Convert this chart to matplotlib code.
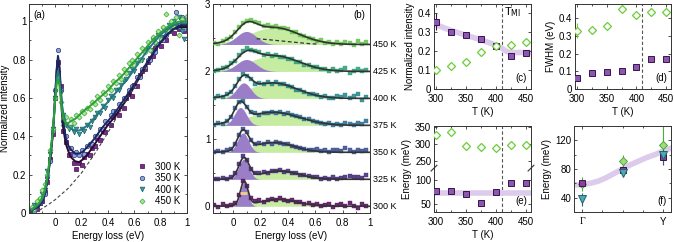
import numpy as np
import matplotlib
matplotlib.use("Agg")
import matplotlib.pyplot as plt
from matplotlib.ticker import MultipleLocator

plt.rcParams['font.family'] = ['Liberation Sans', 'DejaVu Sans']
plt.rcParams['font.size'] = 7

# ---------------- panel (a) data ----------------
x_a = [-0.18, -0.16, -0.14, -0.12, -0.10, -0.08, -0.06, -0.04, -0.02, 0.00,
       0.02, 0.04, 0.06, 0.08, 0.10, 0.12, 0.14, 0.16, 0.18, 0.20,
       0.22, 0.24, 0.26, 0.28, 0.30, 0.32, 0.34, 0.36, 0.38, 0.40,
       0.42, 0.44, 0.46, 0.48, 0.50, 0.52, 0.54, 0.56, 0.58, 0.60,
       0.62, 0.64, 0.66, 0.68, 0.70, 0.72, 0.74, 0.76, 0.78, 0.80,
       0.82, 0.84, 0.86, 0.88, 0.90, 0.92, 0.94, 0.96, 0.98, 1.00]
pts_300 = [0.01, 0.03, 0.02, 0.05, 0.06, 0.11, 0.16, 0.28, 0.41, 0.60,
           0.79, 0.66, 0.43, 0.37, 0.30, 0.31, 0.26, 0.23, 0.26, 0.25,
           0.29, 0.31, 0.30, 0.34, 0.35, 0.39, 0.38, 0.43, 0.42, 0.47,
           0.46, 0.50, 0.52, 0.51, 0.56, 0.55, 0.60, 0.62, 0.61, 0.67,
           0.66, 0.72, 0.74, 0.75, 0.79, 0.81, 0.82, 0.86, 0.88, 0.87,
           0.92, 0.90, 0.95, 0.97, 0.94, 0.98, 0.96, 0.99, 0.95, 0.98]
pts_350 = [0.02, 0.01, 0.04, 0.05, 0.08, 0.10, 0.19, 0.27, 0.43, 0.64,
           0.85, 0.64, 0.48, 0.40, 0.34, 0.34, 0.30, 0.32, 0.30, 0.33,
           0.31, 0.35, 0.36, 0.36, 0.40, 0.40, 0.44, 0.44, 0.48, 0.47,
           0.51, 0.53, 0.53, 0.57, 0.56, 0.60, 0.60, 0.64, 0.66, 0.66,
           0.71, 0.71, 0.75, 0.76, 0.80, 0.80, 0.84, 0.84, 0.88, 0.90,
           0.90, 0.93, 0.95, 0.97, 0.99, 1.05, 0.97, 1.02, 0.96, 1.01]
pts_400 = [0.02, 0.04, 0.04, 0.07, 0.10, 0.12, 0.22, 0.31, 0.44, 0.60,
           0.73, 0.63, 0.51, 0.46, 0.44, 0.45, 0.42, 0.44, 0.41, 0.44,
           0.43, 0.46, 0.45, 0.48, 0.50, 0.52, 0.52, 0.56, 0.55, 0.59,
           0.61, 0.60, 0.64, 0.64, 0.67, 0.69, 0.70, 0.73, 0.75, 0.74,
           0.78, 0.80, 0.80, 0.85, 0.86, 0.85, 0.90, 0.88, 0.93, 0.92,
           0.96, 0.94, 0.98, 0.96, 1.00, 0.97, 1.02, 0.95, 0.91, 0.97]
pts_450 = [0.03, 0.02, 0.06, 0.08, 0.12, 0.15, 0.20, 0.33, 0.44, 0.60,
           0.69, 0.58, 0.46, 0.50, 0.45, 0.49, 0.47, 0.51, 0.50, 0.53,
           0.52, 0.55, 0.54, 0.58, 0.57, 0.61, 0.59, 0.63, 0.62, 0.66,
           0.64, 0.69, 0.68, 0.72, 0.70, 0.75, 0.73, 0.78, 0.80, 0.77,
           0.83, 0.80, 0.86, 0.84, 0.89, 0.85, 0.92, 0.89, 0.95, 0.91,
           0.97, 1.04, 0.95, 1.00, 0.97, 1.02, 0.93, 1.01, 0.99, 1.03]

x_fit_a = [-0.18, -0.15, -0.12, -0.10, -0.08, -0.06, -0.04, -0.02, -0.01, 0.00,
           0.01, 0.02, 0.03, 0.04, 0.05, 0.06, 0.08, 0.10, 0.12, 0.15,
           0.18, 0.21, 0.25, 0.30, 0.35, 0.40, 0.45, 0.50, 0.55, 0.60,
           0.65, 0.70, 0.75, 0.80, 0.85, 0.90, 0.95, 1.00]
fit_300 = [0.015, 0.025, 0.04, 0.06, 0.10, 0.17, 0.27, 0.40, 0.50, 0.62,
           0.74, 0.80, 0.76, 0.64, 0.52, 0.44, 0.36, 0.32, 0.29, 0.27,
           0.265, 0.28, 0.31, 0.36, 0.41, 0.46, 0.50, 0.55, 0.60, 0.66,
           0.72, 0.78, 0.84, 0.89, 0.93, 0.96, 0.97, 0.97]
fit_350 = [0.015, 0.025, 0.04, 0.06, 0.10, 0.17, 0.28, 0.41, 0.51, 0.63,
           0.75, 0.82, 0.78, 0.67, 0.56, 0.48, 0.39, 0.35, 0.33, 0.31,
           0.31, 0.32, 0.35, 0.39, 0.44, 0.48, 0.52, 0.57, 0.62, 0.67,
           0.73, 0.79, 0.84, 0.89, 0.93, 0.96, 0.98, 0.98]
fit_400 = [0.015, 0.03, 0.05, 0.07, 0.11, 0.18, 0.29, 0.42, 0.51, 0.61,
           0.70, 0.74, 0.71, 0.64, 0.57, 0.52, 0.47, 0.45, 0.44, 0.43,
           0.43, 0.44, 0.46, 0.50, 0.54, 0.58, 0.62, 0.66, 0.70, 0.75,
           0.80, 0.85, 0.89, 0.93, 0.96, 0.98, 0.99, 0.99]
fit_450 = [0.02, 0.035, 0.055, 0.08, 0.12, 0.19, 0.30, 0.42, 0.51, 0.60,
           0.67, 0.70, 0.67, 0.60, 0.53, 0.49, 0.47, 0.47, 0.48, 0.49,
           0.51, 0.53, 0.55, 0.58, 0.61, 0.64, 0.68, 0.71, 0.75, 0.79,
           0.83, 0.87, 0.91, 0.94, 0.97, 0.99, 1.00, 1.00]
bg_x = [-0.12, -0.05, 0.0, 0.05, 0.1, 0.15, 0.2, 0.3, 0.4, 0.5, 0.6, 0.7]
bg_y = [0.015, 0.045, 0.07, 0.10, 0.13, 0.17, 0.21, 0.31, 0.42, 0.54, 0.66, 0.78]

# ---------------- fit parameters (panels c, d, e) ----------------
temps = [300, 325, 350, 375, 400, 425, 450]
int_low = [0.355, 0.30, 0.287, 0.265, 0.23, 0.177, 0.193]
int_high = [0.10, 0.124, 0.145, 0.195, 0.23, 0.233, 0.25]
fwhm_low = [0.064, 0.088, 0.094, 0.103, 0.122, 0.169, 0.169]
fwhm_high = [0.33, 0.335, 0.356, 0.454, 0.42, 0.435, 0.435]
en_low = [78, 76, 70, 51, 75, 95, 95]
en_high = [327, 335, 294, 290, 287, 297, 297]
band_c_T = [297, 325, 350, 375, 400, 410, 418, 425, 458]
band_c_y = [0.345, 0.31, 0.285, 0.26, 0.232, 0.215, 0.198, 0.193, 0.193]
band_e_T = [297, 458]
band_e_y = [73, 73]
T_MI = 410

# ---------------- panel (b) data ----------------
x_b = [-0.14, -0.11, -0.08, -0.05, -0.02, 0.01, 0.04, 0.07, 0.10, 0.13,
       0.16, 0.19, 0.22, 0.25, 0.28, 0.31, 0.34, 0.37, 0.40, 0.43,
       0.46, 0.49, 0.52, 0.55, 0.58, 0.61, 0.64, 0.67, 0.70, 0.73,
       0.76, 0.79, 0.82, 0.85, 0.88, 0.91, 0.94, 0.97]
spec_b = [
    [0.02, -0.01, 0.03, 0.00, 0.02, 0.05, 0.17, 0.38, 0.30, 0.12, 0.08, 0.09, 0.07, 0.10, 0.11, 0.09, 0.12, 0.10, 0.08,
     0.09, 0.06, 0.07, 0.04, 0.05, 0.02, 0.03, 0.00, 0.02, 0.04, -0.01, 0.02, 0.03, 0.00, 0.05, 0.01, -0.02, 0.03, 0.00],
    [0.01, 0.00, 0.02, 0.01, 0.04, 0.09, 0.22, 0.34, 0.28, 0.16, 0.10, 0.09, 0.11, 0.10, 0.13, 0.12, 0.14, 0.11, 0.12,
     0.09, 0.10, 0.07, 0.06, 0.05, 0.03, 0.04, 0.01, 0.02, 0.00, 0.03, 0.01, 0.02, 0.04, 0.05, 0.03, 0.04, 0.02, 0.06],
    [0.01, 0.02, 0.00, 0.03, 0.05, 0.13, 0.26, 0.35, 0.30, 0.19, 0.13, 0.14, 0.12, 0.15, 0.13, 0.16, 0.14, 0.13, 0.12,
     0.10, 0.08, 0.07, 0.05, 0.04, 0.03, 0.05, 0.02, 0.04, 0.01, 0.03, 0.04, 0.02, 0.06, 0.03, 0.01, 0.04, 0.02, 0.03],
    [0.01, 0.03, 0.02, 0.07, 0.12, 0.26, 0.35, 0.36, 0.27, 0.20, 0.18, 0.16, 0.19, 0.18, 0.20, 0.19, 0.20, 0.17, 0.18,
     0.15, 0.14, 0.12, 0.10, 0.09, 0.06, 0.05, 0.04, 0.02, 0.03, 0.01, 0.02, 0.00, 0.03, 0.02, 0.01, 0.04, 0.02, 0.06],
    [0.00, 0.03, 0.02, 0.06, 0.09, 0.19, 0.29, 0.36, 0.33, 0.29, 0.22, 0.23, 0.21, 0.24, 0.22, 0.24, 0.21, 0.22, 0.18,
     0.17, 0.13, 0.12, 0.10, 0.07, 0.06, 0.05, 0.02, 0.03, 0.01, 0.00, 0.03, 0.02, 0.05, 0.01, 0.03, 0.07, -0.02, 0.02],
    [0.01, 0.02, 0.05, 0.06, 0.12, 0.16, 0.25, 0.30, 0.34, 0.32, 0.31, 0.29, 0.25, 0.26, 0.23, 0.25, 0.22, 0.22, 0.19,
     0.18, 0.14, 0.14, 0.10, 0.09, 0.06, 0.06, 0.03, 0.04, 0.01, 0.03, 0.00, 0.02, 0.05, -0.02, 0.01, 0.03, 0.00, 0.02],
    [0.02, 0.01, 0.05, 0.08, 0.11, 0.19, 0.26, 0.32, 0.35, 0.37, 0.33, 0.32, 0.28, 0.29, 0.26, 0.28, 0.24, 0.25, 0.23,
     0.19, 0.18, 0.14, 0.13, 0.09, 0.08, 0.05, 0.06, 0.02, 0.04, 0.01, 0.03, 0.00, 0.04, 0.02, -0.01, 0.05, 0.01, 0.03],
]
tail_x = [0.17, 0.25, 0.35, 0.45, 0.55, 0.62]
tail_y = [0.085, 0.072, 0.052, 0.032, 0.013, 0.004]
b_offset = 0.4

# ---------------- panel (f) data ----------------
q_pos = [0, 0.5, 1]
f_low = [60, 79, 97]
f_high = [59, 91, 114]
f_high_err = [10, 9, 27]
f_mid = [38, 75, 99]
f_mid_err = [9, 0, 14]
band_f_x = [-0.1, 0, 0.1, 0.2, 0.3, 0.4, 0.5, 0.6, 0.7, 0.8, 0.9, 1.0, 1.1]
band_f_y = [58, 58, 60, 63, 68, 74, 80, 86, 91, 96, 100, 105, 109]

# ---------------- styling ----------------
c_sq, e_sq = '#8a58ad', '#3b1250'
c_dm = '#6ccc3a'
band = '#dccbea'
spec_cols = ['#5b1464', '#4a2f80', '#3d5294', '#2f7196', '#2b8b8e', '#33a37a', '#6cc655']

W, H = 674, 242
fig = plt.figure(figsize=(W / 100, H / 100), dpi=100)


def ax_px(l, t, r, b):
    return fig.add_axes([l / W, 1 - b / H, (r - l) / W, (b - t) / H])


def style(ax):
    ax.tick_params(which='both', direction='in', top=True, right=True,
                   labelsize=7, width=0.6, color='#333333')
    ax.tick_params(axis='x', which='both', pad=3.5)
    ax.tick_params(axis='y', which='both', pad=2)
    ax.tick_params(which='major', length=2.5)
    ax.tick_params(which='minor', length=1.5)
    for s in ax.spines.values():
        s.set_linewidth(0.7)
        s.set_color('#333333')


# (a)
ax = ax_px(29, 4, 187, 213)
sty = [(pts_300, 's', '#7d2a8c', '#3d0a4a', 2.8, '300 K'),
       (pts_350, 'o', '#8fa3d8', '#2a3a7a', 3.2, '350 K'),
       (pts_400, 'v', '#3a9aa0', '#1f5f66', 3.4, '400 K'),
       (pts_450, 'D', '#a8e890', '#3aa83a', 2.6, '450 K')]
handles = []
for yv, m, fc, ec, ms, lab in sty:
    h, = ax.plot(x_a, yv, ls='none', marker=m, mfc=fc, mec=ec, ms=ms, mew=0.5, label=lab)
    handles.append(h)
for yv, col in [(fit_300, '#2b0a35'), (fit_350, '#1c2560'), (fit_400, '#237a80'), (fit_450, '#2ea03a')]:
    ax.plot(x_fit_a, yv, color=col, lw=1.4)
ax.plot(bg_x, bg_y, color='#444444', lw=0.8, dashes=(3, 2))
ax.set_xlim(-0.2, 1.0)
ax.set_ylim(0, 1.09)
ax.set_xticks([0, 0.2, 0.4, 0.6, 0.8, 1.0], ['0', '0.2', '0.4', '0.6', '0.8', '1'])
ax.set_yticks([0, 0.2, 0.4, 0.6, 0.8, 1.0], ['0', '0.2', '0.4', '0.6', '0.8', '1'])
ax.xaxis.set_minor_locator(MultipleLocator(0.1))
ax.yaxis.set_minor_locator(MultipleLocator(0.1))
ax.set_xlabel('Energy loss (eV)', labelpad=2)
ax.set_ylabel('Normalized intensity', labelpad=2)
ax.legend(handles=handles, loc='lower right', frameon=False, fontsize=7,
          handlelength=1.0, handletextpad=0.8, labelspacing=0.15, borderaxespad=0.3)
ax.text(0.03, 0.97, '(a)', transform=ax.transAxes, ha='left', va='top')
style(ax)

# (b)
ax = ax_px(213, 4, 370, 213)
xf = np.linspace(-0.15, 1.0, 400)
for i, T in enumerate(temps):
    off = i * b_offset
    p = int_low[i] * 0.5 ** (((xf - en_low[i] / 1000) / (fwhm_low[i] / 2)) ** 2)
    g = int_high[i] * 0.5 ** (((xf - en_high[i] / 1000) / (fwhm_high[i] / 2)) ** 2)
    ax.fill_between(xf, off, off + g, color='#c6eca2', lw=0, zorder=1)
    ax.fill_between(xf, off, off + p, color='#9b7ec8', lw=0, zorder=2)
    ax.plot(x_b, np.array(spec_b[i]) + off, ls='none', marker='s', ms=2.3,
            mfc=spec_cols[i], mec=spec_cols[i], mew=0.3, alpha=0.9, zorder=3)
    ax.plot(xf, off + p + g, color='#333333', lw=1.2, zorder=4)
    ax.text(1.02, off, '%d K' % T, transform=ax.get_yaxis_transform(),
            ha='left', va='center', fontsize=6.5)
ax.plot(tail_x, np.array(tail_y) + 6 * b_offset, color='#333333', lw=0.9, dashes=(3, 2), zorder=4)
ax.plot([0.05, 0.10], [0.19, 0.19], color='#f6cf8a', lw=2, solid_capstyle='butt', zorder=5)
ax.set_xlim(-0.15, 1.0)
ax.set_ylim(-0.1, 3.0)
ax.set_xticks([0, 0.2, 0.4, 0.6, 0.8, 1.0], ['0', '0.2', '0.4', '0.6', '0.8', '1'])
ax.xaxis.set_minor_locator(MultipleLocator(0.1))
ax.yaxis.set_major_locator(MultipleLocator(1))
ax.yaxis.set_minor_locator(MultipleLocator(0.5))
ax.set_xlabel('Energy loss (eV)', labelpad=2)
ax.text(0.97, 0.97, '(b)', transform=ax.transAxes, ha='right', va='top')
style(ax)
ax.tick_params(right=False, which='both')


def temp_axis(ax):
    ax.set_xlim(297, 458)
    ax.xaxis.set_major_locator(MultipleLocator(50))
    ax.xaxis.set_minor_locator(MultipleLocator(25))
    ax.axvline(T_MI, color='#555555', lw=0.8, dashes=(3, 2), zorder=0)
    ax.set_xlabel('T (K)', labelpad=2)


# (c)
ax = ax_px(434, 4, 531, 89)
ax.plot(band_c_T, band_c_y, color=band, lw=4, solid_capstyle='butt', zorder=1)
ax.errorbar(temps[:1], int_low[:1], yerr=[0.045], fmt='none', ecolor=e_sq, elinewidth=0.8, zorder=2)
ax.plot(temps, int_low, ls='none', marker='s', ms=5, mfc=c_sq, mec=e_sq, mew=0.7, zorder=3)
ax.plot(temps, int_high, ls='none', marker='D', ms=4.5, mfc='white', mec=c_dm, mew=0.9, zorder=3)
temp_axis(ax)
ax.set_ylim(0, 0.45)
ax.set_yticks([0, 0.1, 0.2, 0.3, 0.4], ['0', '0.1', '0.2', '0.3', '0.4'])
ax.set_ylabel('Normalized intensity', labelpad=2)
ax.text(413, 0.405, r'T$_{\rm MI}$', ha='left', va='center', fontsize=8)
ax.text(0.96, 0.07, '(c)', transform=ax.transAxes, ha='right', va='bottom')
style(ax)

# (d)
ax = ax_px(575, 4, 671, 89)
ax.errorbar(temps[:1], fwhm_high[:1], yerr=[0.04], fmt='none', ecolor=c_dm, elinewidth=0.8, zorder=2)
ax.plot(temps, fwhm_low, ls='none', marker='s', ms=5, mfc=c_sq, mec=e_sq, mew=0.7, zorder=3)
ax.plot(temps, fwhm_high, ls='none', marker='D', ms=4.5, mfc='white', mec=c_dm, mew=0.9, zorder=3)
temp_axis(ax)
ax.set_ylim(0, 0.48)
ax.set_yticks([0, 0.1, 0.2, 0.3, 0.4], ['0', '0.1', '0.2', '0.3', '0.4'])
ax.set_ylabel('FWHM (eV)', labelpad=2)
ax.text(0.96, 0.07, '(d)', transform=ax.transAxes, ha='right', va='bottom')
style(ax)

# (e) with broken energy axis
lo_b, hi_b, k = 126, 228, 0.714
src = [-1e4, lo_b, hi_b, 1e4]
dst = [-1e4, lo_b, lo_b + 0.5, lo_b + 0.5 + (1e4 - hi_b) * k]


def fwd(y):
    return np.interp(y, src, dst)


def inv(u):
    return np.interp(u, dst, src)


ax = ax_px(434, 126, 531, 212)
ax.set_yscale('function', functions=(fwd, inv))
ax.plot(band_e_T, band_e_y, color=band, lw=4, solid_capstyle='butt', zorder=1)
ax.plot(temps, en_low, ls='none', marker='s', ms=5, mfc=c_sq, mec=e_sq, mew=0.7, zorder=3)
ax.plot(temps, en_high, ls='none', marker='D', ms=4.5, mfc='white', mec=c_dm, mew=0.9, zorder=3)
temp_axis(ax)
ax.set_ylim(32, 354)
ax.set_yticks([50, 100, 250, 300, 350], ['50', '100', '250', '300', '350'])
ax.yaxis.set_minor_locator(plt.NullLocator())
ax.set_ylabel('Energy (meV)', labelpad=2)
for xa in (0, 1):
    ax.plot([xa - 0.03, xa + 0.03], [120, 236], transform=ax.get_yaxis_transform(),
            color='#333333', lw=0.8, clip_on=False)
ax.text(0.96, 0.07, '(e)', transform=ax.transAxes, ha='right', va='bottom')
style(ax)

# (f)
ax = ax_px(574, 126, 671, 212)
ax.plot(band_f_x, band_f_y, color=band, lw=4, zorder=1)
ax.errorbar(q_pos, f_high, yerr=f_high_err, fmt='none', ecolor='#4aaa3a', elinewidth=0.8, zorder=2)
ax.errorbar(q_pos, f_mid, yerr=f_mid_err, fmt='none', ecolor='#1f6670', elinewidth=0.8, zorder=2)
ax.plot(q_pos, f_high, ls='none', marker='D', ms=4.5, mfc='#a2dc7a', mec='#4aaa3a', mew=0.7, zorder=3)
ax.plot(q_pos, f_low, ls='none', marker='s', ms=5, mfc='#8b3f9a', mec=e_sq, mew=0.7, zorder=4)
ax.plot(q_pos, f_mid, ls='none', marker='v', ms=5.5, mfc='#4ea8b0', mec='#1f6670', mew=0.7, zorder=5)
ax.set_xlim(-0.1, 1.1)
ax.set_ylim(20, 140)
ax.set_xticks([0, 1], ['Γ', 'Y'])
ax.xaxis.get_ticklabels()[0].set_fontfamily('Liberation Serif')
ax.xaxis.set_minor_locator(MultipleLocator(0.25))
ax.yaxis.set_major_locator(MultipleLocator(40))
ax.yaxis.set_minor_locator(MultipleLocator(20))
ax.set_ylabel('Energy (meV)', labelpad=2)
ax.text(0.96, 0.07, '(f)', transform=ax.transAxes, ha='right', va='bottom')
style(ax)

fig.savefig('out.png', dpi=100)
